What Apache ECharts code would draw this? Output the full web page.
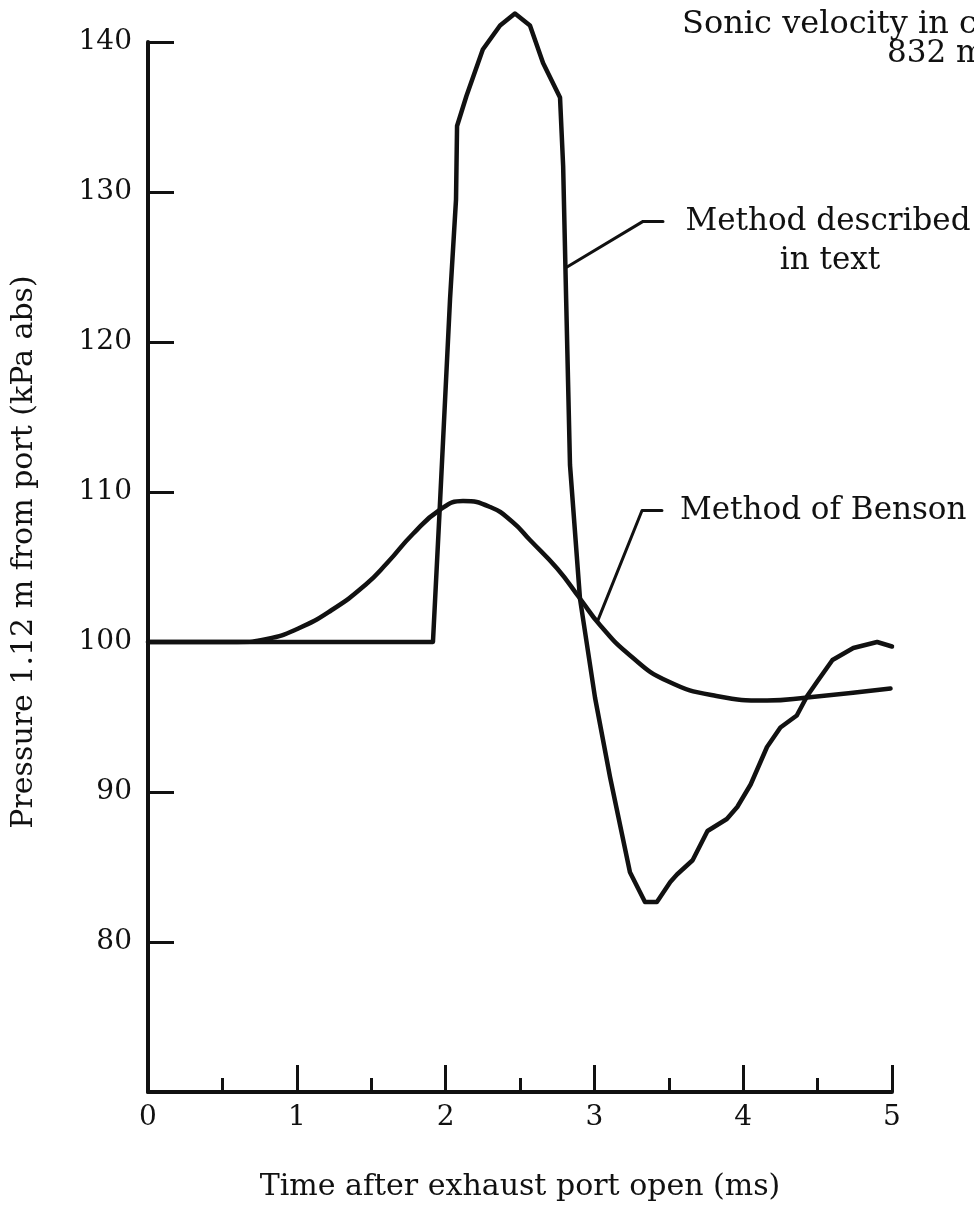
<!DOCTYPE html>
<html>
<head>
<meta charset="utf-8">
<script src="https://cdn.jsdelivr.net/npm/echarts@6/dist/echarts.min.js"></script>
<style>
  html, body { margin: 0; padding: 0; background: #fff; }
  #chart { width: 974px; height: 1208px; }
</style>
</head>
<body>
<div id="chart"></div>
<script>
// Pressure 1.12 m from the port vs. time after exhaust port opening
// Each point: [time (ms), pressure (kPa abs)]
const methodText = [
  [0, 100], [1.915, 100], [1.96, 108.8], [2.03, 122.9], [2.07, 129.5], [2.077, 134.4],
  [2.14, 136.4], [2.25, 139.5], [2.366, 141.1], [2.466, 141.9], [2.567, 141.1],
  [2.655, 138.6], [2.769, 136.3], [2.79, 131.7], [2.81, 122.9], [2.836, 111.8],
  [2.903, 102.9], [3.004, 96.3], [3.105, 91.0], [3.239, 84.65], [3.34, 82.66],
  [3.42, 82.66], [3.51, 84.0], [3.555, 84.5], [3.66, 85.45], [3.76, 87.4],
  [3.89, 88.2], [3.96, 89.0], [4.05, 90.5], [4.16, 93.0], [4.25, 94.3],
  [4.36, 95.1], [4.43, 96.4], [4.5, 97.4], [4.6, 98.8], [4.74, 99.6],
  [4.9, 100.0], [5.0, 99.7]
];
const methodBenson = [
  [0, 100], [0.6, 100], [0.8, 100.2], [1.01, 100.9], [1.23, 102.1], [1.46, 103.8],
  [1.61, 105.3], [1.78, 107.2], [1.96, 108.8], [2.117, 109.4], [2.3, 109.0],
  [2.45, 108.0], [2.567, 106.8], [2.75, 104.9], [2.903, 102.9], [3.04, 101.1],
  [3.24, 99.1], [3.49, 97.4], [3.82, 96.4], [4.16, 96.1], [4.43, 96.3], [4.99, 96.9]
];
// Leader lines from the curves to their labels
const leaderText = [[2.816, 125.0], [3.327, 128.04], [3.461, 128.04]];
const leaderBenson = [[3.024, 101.46], [3.32, 108.77], [3.454, 108.77]];

const xTicks = [0, 1, 2, 3, 4, 5];
const yTicks = [80, 90, 100, 110, 120, 130, 140];

const FONT = '"DejaVu Serif", "Liberation Serif", serif';
const INK = '#111';

const chart = echarts.init(document.getElementById('chart'), null, { renderer: 'canvas' });

const lineSeries = (name, data, width, smooth) => ({
  name, type: 'line', data, showSymbol: false, symbol: 'none',
  smooth, clip: false,
  lineStyle: { color: INK, width, cap: 'round', join: 'round' },
  animation: false, silent: true
});

chart.setOption({
  backgroundColor: '#fff',
  animation: false,
  grid: { left: 148, right: 82, top: 42, bottom: 116, containLabel: false, outerBoundsMode: 'none' },
  xAxis: {
    type: 'value', min: xTicks[0], max: xTicks[xTicks.length - 1], interval: 1,
    axisLine: { show: true, lineStyle: { color: INK, width: 4 } },
    axisTick: { show: true, inside: true, length: 27, lineStyle: { color: INK, width: 3 } },
    minorTick: { show: true, splitNumber: 2, length: 14, lineStyle: { color: INK, width: 3 } },
    splitLine: { show: false },
    axisLabel: {
      color: INK, fontFamily: FONT, fontSize: 28, margin: 12,
      formatter: v => (xTicks.includes(v) ? String(v) : '')
    },
    name: 'Time after exhaust port open (ms)',
    nameLocation: 'middle', nameGap: 80,
    nameTextStyle: { color: INK, fontFamily: FONT, fontSize: 30 }
  },
  yAxis: {
    type: 'value', min: 70, max: yTicks[yTicks.length - 1], interval: 10,
    axisLine: { show: true, lineStyle: { color: INK, width: 4 } },
    axisTick: { show: true, inside: true, length: 26, lineStyle: { color: INK, width: 3 } },
    splitLine: { show: false },
    axisLabel: {
      color: INK, fontFamily: FONT, fontSize: 28, margin: 16,
      formatter: v => (yTicks.includes(v) ? String(v) : '')
    }
  },
  series: [
    lineSeries('Method described in text', methodText, 4.5, false),
    lineSeries('Method of Benson', methodBenson, 4.5, 0.5),
    lineSeries('leader-text', leaderText, 3, false),
    lineSeries('leader-benson', leaderBenson, 3, false)
  ],
  graphic: [
    { type: 'text', x: 24, y: 552, rotation: Math.PI / 2, silent: true,
      style: { text: 'Pressure 1.12 m from port (kPa abs)', font: '30px ' + FONT, fill: INK,
               align: 'center', verticalAlign: 'middle' } },
    { type: 'text', x: 682, y: 9, silent: true,
      style: { text: 'Sonic velocity in cylinder gas,', font: '32px ' + FONT, fill: INK } },
    { type: 'text', x: 887, y: 38, silent: true,
      style: { text: '832 m/sec', font: '31px ' + FONT, fill: INK } },
    { type: 'text', x: 828, y: 222, silent: true,
      style: { text: 'Method described', font: '31px ' + FONT, fill: INK,
               align: 'center', verticalAlign: 'middle' } },
    { type: 'text', x: 830, y: 261, silent: true,
      style: { text: 'in text', font: '31px ' + FONT, fill: INK,
               align: 'center', verticalAlign: 'middle' } },
    { type: 'text', x: 680, y: 511, silent: true,
      style: { text: 'Method of Benson', font: '31px ' + FONT, fill: INK,
               verticalAlign: 'middle' } }
  ]
});
</script>
</body>
</html>
